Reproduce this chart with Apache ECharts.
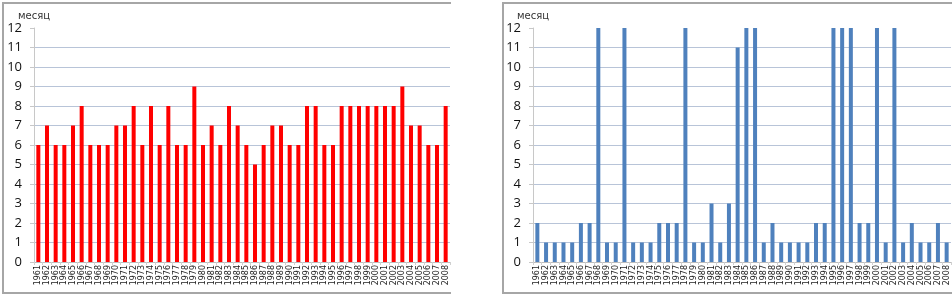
<!DOCTYPE html>
<html>
<head>
<meta charset="utf-8">
<script src="https://cdn.jsdelivr.net/npm/echarts@6/dist/echarts.min.js"></script>
<style>
  html, body { margin: 0; padding: 0; background: #fff; }
  #main { width: 952px; height: 298px; }
</style>
</head>
<body>
<div id="main"></div>
<script>
// годы по оси X (оба графика)
var years = [];
for (var y = 1961; y <= 2008; y++) years.push(String(y));

// левый график (красный)
var leftValues = [6, 7, 6, 6, 7, 8, 6, 6, 6, 7, 7, 8, 6, 8, 6, 8, 6, 6, 9, 6, 7, 6, 8, 7,
                  6, 5, 6, 7, 7, 6, 6, 8, 8, 6, 6, 8, 8, 8, 8, 8, 8, 8, 9, 7, 7, 6, 6, 8];

// правый график (синий)
var rightValues = [2, 1, 1, 1, 1, 2, 2, 12, 1, 1, 12, 1, 1, 1, 2, 2, 2, 12, 1, 1, 3, 1, 3, 11,
                   12, 12, 1, 2, 1, 1, 1, 1, 2, 2, 12, 12, 12, 2, 2, 12, 1, 12, 1, 2, 1, 1, 2, 1];

var yTicks = [0, 12, 1]; // min, max, interval
var gridValues = [1, 2, 3, 4, 5, 6, 7, 8, 9, 10, 11]; // линии сетки (без верхней 12)
var unitName = 'месяц';

var chart = echarts.init(document.getElementById('main'));

function yAxisCfg(gridIndex) {
    return {
        gridIndex: gridIndex,
        type: 'value',
        min: yTicks[0], max: yTicks[1], interval: yTicks[2],
        name: unitName,
        nameLocation: 'end',
        nameGap: 6,
        nameTextStyle: { color: '#333', fontSize: 10, fontFamily: 'DejaVu Sans', align: 'center' },
        axisLine: { show: true, lineStyle: { color: '#c8c8c8', width: 1 } },
        axisTick: { show: true, length: 4, lineStyle: { color: '#c8c8c8' } },
        axisLabel: { color: '#111', fontSize: 13, fontFamily: 'Open Sans', margin: 12 },
        splitLine: { show: false }
    };
}

function xAxisCfg(gridIndex) {
    return {
        gridIndex: gridIndex,
        type: 'category',
        data: years,
        axisLine: { lineStyle: { color: '#bdbdbd', width: 1 } },
        axisTick: { show: true, length: 3, lineStyle: { color: '#d0d0d0' } },
        axisLabel: {
            interval: 0, rotate: 90, fontSize: 8, color: '#222',
            fontFamily: 'DejaVu Sans', margin: 3, hideOverlap: false
        }
    };
}

// горизонтальные линии сетки через markLine (под столбиками)
var gridLines = {
    silent: true,
    z: 0,
    symbol: 'none',
    label: { show: false },
    lineStyle: { color: '#b8c4d8', width: 1, type: 'solid' },
    data: gridValues.map(function (v) { return { yAxis: v }; })
};

var frameStyle = { stroke: '#a6a6a6', lineWidth: 2, fill: null };

var option = {
    animation: false,
    backgroundColor: '#fff',
    grid: [
        { left: 34, right: 502, top: 28, bottom: 36 },
        { left: 533, right: 1, top: 28, bottom: 36 }
    ],
    xAxis: [xAxisCfg(0), xAxisCfg(1)],
    yAxis: [yAxisCfg(0), yAxisCfg(1)],
    series: [
        {
            type: 'bar', xAxisIndex: 0, yAxisIndex: 0, z: 3,
            data: leftValues, barWidth: 4,
            itemStyle: { color: '#ff0000' },
            markLine: gridLines
        },
        {
            type: 'bar', xAxisIndex: 1, yAxisIndex: 1, z: 3,
            data: rightValues, barWidth: 4,
            itemStyle: { color: '#4f81bd' },
            markLine: gridLines
        }
    ],
    graphic: [
        // рамка левого графика
        { type: 'polyline', shape: { points: [[451, 3], [3, 3], [3, 293], [451, 293]] }, style: frameStyle, silent: true },
        // рамка правого графика
        { type: 'polyline', shape: { points: [[952, 3], [503, 3], [503, 293], [952, 293]] }, style: frameStyle, silent: true }
    ]
};

chart.setOption(option);
</script>
</body>
</html>
